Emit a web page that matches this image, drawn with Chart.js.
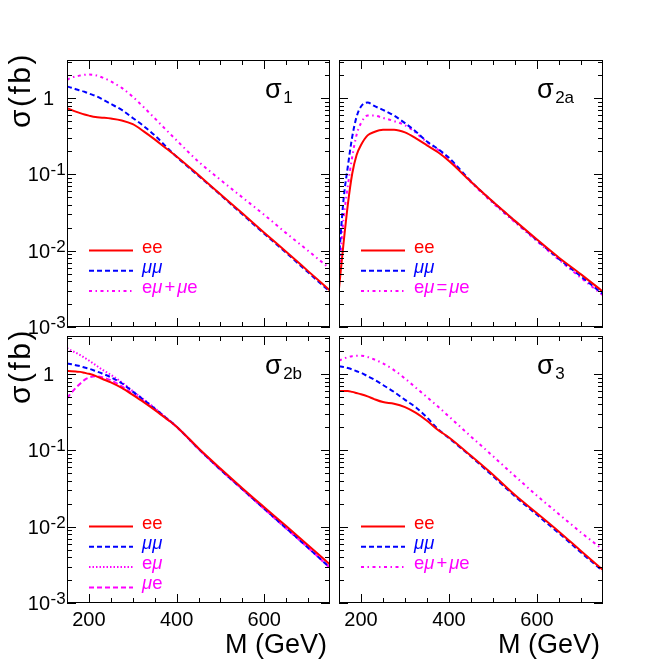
<!DOCTYPE html>
<html>
<head>
<meta charset="utf-8">
<script src="https://cdn.jsdelivr.net/npm/chart.js@4.4.1/dist/chart.umd.min.js"></script>
<style>
  html, body { margin: 0; padding: 0; background: #fff; }
  #wrap { position: relative; width: 664px; height: 664px; }
  #wrap canvas { position: absolute; left: 0; top: 0; }
</style>
</head>
<body>
<div id="wrap">
  <canvas id="sig1" width="664" height="664"></canvas>
  <canvas id="sig2a" width="664" height="664"></canvas>
  <canvas id="sig2b" width="664" height="664"></canvas>
  <canvas id="sig3" width="664" height="664"></canvas>
</div>
<script>
// masses (GeV) shared by every curve
const mass = [150, 160, 170, 180, 190, 200, 215, 230, 250, 275, 300, 325, 350, 375, 400, 450, 500, 550, 600, 650, 700, 750];

// sigma_1 (fb)
const s1_ee   = [0.74, 0.70, 0.665, 0.635, 0.61, 0.59, 0.565, 0.555, 0.54, 0.51, 0.455, 0.367, 0.288, 0.222, 0.172, 0.098, 0.055, 0.031, 0.0172, 0.0097, 0.0054, 0.0030];
const s1_mumu = [1.42, 1.37, 1.31, 1.26, 1.21, 1.15, 1.07, 0.97, 0.84, 0.70, 0.55, 0.43, 0.325, 0.235, 0.170, 0.096, 0.054, 0.030, 0.0167, 0.0094, 0.0052, 0.0029];
const s1_emu  = [1.74, 1.85, 1.93, 1.98, 2.02, 2.04, 2.0, 1.87, 1.66, 1.36, 1.04, 0.76, 0.545, 0.39, 0.28, 0.147, 0.085, 0.050, 0.0295, 0.017, 0.010, 0.0058];

// sigma_2a (fb)
const s2a_ee   = [0.0032, 0.012, 0.040, 0.102, 0.18, 0.243, 0.325, 0.36, 0.385, 0.385, 0.355, 0.297, 0.24, 0.195, 0.150, 0.080, 0.0437, 0.0246, 0.0140, 0.0081, 0.0049, 0.0029];
const s2a_mumu = [0.008, 0.045, 0.126, 0.31, 0.57, 0.776, 0.875, 0.79, 0.70, 0.59, 0.47, 0.363, 0.27, 0.215, 0.165, 0.081, 0.0435, 0.0243, 0.0137, 0.0078, 0.0046, 0.0027];
const s2a_emu  = [0.005, 0.025, 0.07, 0.17, 0.33, 0.47, 0.59, 0.59, 0.55, 0.50, 0.44, 0.35, 0.265, 0.21, 0.158, 0.079, 0.042, 0.0235, 0.0133, 0.0076, 0.0044, 0.0026];

// sigma_2b (fb)
const s2b_ee   = [1.10, 1.09, 1.08, 1.07, 1.04, 1.01, 0.95, 0.87, 0.78, 0.66, 0.535, 0.43, 0.34, 0.265, 0.205, 0.107, 0.058, 0.032, 0.018, 0.0102, 0.0057, 0.0032];
const s2b_mumu = [1.38, 1.35, 1.31, 1.27, 1.22, 1.18, 1.10, 1.02, 0.91, 0.76, 0.59, 0.46, 0.355, 0.27, 0.205, 0.105, 0.056, 0.031, 0.0172, 0.0096, 0.0053, 0.0029];
const s2b_emu  = [2.2, 2.04, 1.91, 1.78, 1.64, 1.51, 1.32, 1.15, 0.98, 0.78, 0.60, 0.465, 0.36, 0.272, 0.205, 0.105, 0.056, 0.031, 0.0171, 0.0095, 0.0053, 0.0029];
const s2b_mue  = [0.48, 0.57, 0.66, 0.75, 0.84, 0.90, 0.94, 0.91, 0.83, 0.69, 0.55, 0.44, 0.345, 0.266, 0.204, 0.105, 0.056, 0.031, 0.0171, 0.0095, 0.0053, 0.0029];

// sigma_3 (fb)
const s3_ee   = [0.60, 0.60, 0.60, 0.585, 0.565, 0.545, 0.51, 0.47, 0.43, 0.41, 0.37, 0.31, 0.245, 0.185, 0.148, 0.085, 0.048, 0.026, 0.0150, 0.0086, 0.0048, 0.0027];
const s3_mumu = [1.27, 1.24, 1.20, 1.15, 1.09, 1.04, 0.94, 0.85, 0.72, 0.585, 0.46, 0.365, 0.27, 0.19, 0.145, 0.083, 0.046, 0.025, 0.0143, 0.0082, 0.0046, 0.0026];
const s3_emu  = [1.50, 1.59, 1.67, 1.72, 1.74, 1.74, 1.68, 1.56, 1.38, 1.13, 0.875, 0.66, 0.50, 0.375, 0.278, 0.152, 0.084, 0.046, 0.0255, 0.0146, 0.0084, 0.0050];

// axis labels
const xTickLabels = [200, 400, 600];
const yDecades = [1, 0.1, 0.01, 0.001];
const yTickLabels = [['1', ''], ['10', '-1'], ['10', '-2'], ['10', '-3']];

const RED = '#ff0000', BLUE = '#0000ff', MAG = '#ff00ff';
const FONT = "'Liberation Sans', Arial, Helvetica, sans-serif";

function curve(label, values, color, dash) {
    return {
        label: label,
        data: mass.map((m, i) => ({ x: m, y: values[i] })),
        borderColor: color,
        borderWidth: 2,
        borderDash: dash,
        pointRadius: 0,
        fill: false,
        cubicInterpolationMode: 'monotone'
    };
}

// draws text, with mu in italics and a bit of room round + and =
function richText(ctx, text, x, y, size) {
    for (const ch of text) {
        const op = (ch === '+' || ch === '=');
        if (op) x += 2;
        ctx.font = (ch === 'μ' ? 'italic ' : '') + size + 'px ' + FONT;
        ctx.fillText(ch, x, y);
        x += ctx.measureText(ch).width;
        if (op) x += 2;
    }
}

// frame, inward ticks, log labels, legend and panel name
const panelPlugin = {
    id: 'panel',
    afterDatasetsDraw(chart, args, o) {
        const ctx = chart.ctx;
        const a = chart.chartArea;
        const xs = chart.scales.x, ys = chart.scales.y;
        ctx.save();
        ctx.setLineDash([]);
        ctx.strokeStyle = '#000';
        ctx.lineWidth = 1;
        ctx.strokeRect(a.left + 0.5, a.top + 0.5, a.width - 1, a.height - 1);

        ctx.beginPath();
        for (let v = xs.min + 50; v < xs.max; v += 50) {
            const px = Math.round(xs.getPixelForValue(v)) + 0.5;
            const len = xTickLabels.includes(v) ? 9 : 5;
            ctx.moveTo(px, a.bottom); ctx.lineTo(px, a.bottom - len);
            ctx.moveTo(px, a.top); ctx.lineTo(px, a.top + len);
        }
        yDecades.forEach(d => {
            for (let k = 1; k <= 9; k++) {
                const v = k * d;
                if (v < ys.min * 0.999 || v > ys.max) continue;
                const py = Math.round(ys.getPixelForValue(v)) + 0.5;
                const len = k === 1 ? 9 : 5;
                ctx.moveTo(a.left, py); ctx.lineTo(a.left + len, py);
                ctx.moveTo(a.right, py); ctx.lineTo(a.right - len, py);
            }
        });
        ctx.stroke();

        ctx.fillStyle = '#000';
        ctx.textBaseline = 'alphabetic';
        if (o.yLabels) {
            yDecades.forEach((d, i) => {
                const py = ys.getPixelForValue(d);
                const [base, sup] = yTickLabels[i];
                ctx.font = '20px ' + FONT;
                if (!sup) {
                    ctx.textAlign = 'right';
                    ctx.fillText(base, a.left - 13, py + 7);
                } else {
                    ctx.textAlign = 'right';
                    ctx.fillText(base, a.left - 17, py + 7);
                    ctx.textAlign = 'left';
                    ctx.font = '17px ' + FONT;
                    ctx.fillText(sup, a.left - 16.5, py + 1);
                }
            });
            ctx.save();
            ctx.translate(a.left - 37, a.top + 68);
            ctx.rotate(-Math.PI / 2);
            ctx.textAlign = 'left';
            ctx.font = '30px ' + FONT;
            if ('letterSpacing' in ctx) ctx.letterSpacing = '2.5px';
            ctx.fillText('σ(fb)', 0, 0);
            ctx.restore();
        }
        if (o.xTitle) {
            ctx.textAlign = 'right';
            ctx.font = '27px ' + FONT;
            ctx.fillText('M (GeV)', a.right - 3, a.bottom + 50);
        }

        // panel name
        ctx.textAlign = 'left';
        ctx.font = '27px ' + FONT;
        const sx = a.left + 198;
        ctx.fillText('σ', sx, a.top + 37.5);
        const w = ctx.measureText('σ').width;
        ctx.font = '17px ' + FONT;
        ctx.fillText(o.sub, sx + w + 1.5, a.top + 43);

        // legend
        o.legend.forEach((text, i) => {
            const ds = chart.data.datasets[i];
            const ly = a.bottom - 76.5 + i * 20.3;
            ctx.beginPath();
            ctx.strokeStyle = ds.borderColor;
            ctx.lineWidth = 2;
            ctx.setLineDash(ds.borderDash || []);
            ctx.moveTo(a.left + 22, ly);
            ctx.lineTo(a.left + 66, ly);
            ctx.stroke();
            ctx.setLineDash([]);
            ctx.fillStyle = ds.borderColor;
            ctx.textAlign = 'left';
            richText(ctx, text, a.left + 75, ly + 2, 18.5);
        });
        ctx.restore();
    }
};

function panel(id, pad, yW, xH, datasets, o) {
    return new Chart(document.getElementById(id), {
        type: 'line',
        data: { datasets: datasets },
        options: {
            responsive: false,
            animation: false,
            devicePixelRatio: 1,
            layout: { padding: pad },
            plugins: {
                legend: { display: false },
                tooltip: { enabled: false },
                panel: o
            },
            scales: {
                x: {
                    type: 'linear',
                    min: 150,
                    max: 750,
                    afterFit: s => { s.height = xH; },
                    grid: { display: false, drawTicks: false },
                    border: { display: false },
                    ticks: {
                        display: !!o.xTitle,
                        stepSize: 50,
                        autoSkip: false,
                        maxRotation: 0,
                        padding: 5,
                        color: '#000',
                        font: { family: FONT, size: 20 },
                        callback: v => xTickLabels.includes(v) ? String(v) : ''
                    }
                },
                y: {
                    type: 'logarithmic',
                    min: 0.001,
                    max: 3.16,
                    afterFit: s => { s.width = yW; },
                    grid: { display: false, drawTicks: false },
                    border: { display: false },
                    ticks: { display: false }
                }
            }
        },
        plugins: [panelPlugin]
    });
}

const SOLID = [], DASH = [5, 3], DASHDOT = [3, 3.5, 1.5, 3.5], DOT = [1.5, 2];

panel('sig1', { left: 0, top: 60, right: 334, bottom: 332 }, 67, 5, [
    curve('ee', s1_ee, RED, SOLID),
    curve('μμ', s1_mumu, BLUE, DASH),
    curve('eμ+μe', s1_emu, MAG, DASHDOT)
], { sub: '1', yLabels: true, legend: ['ee', 'μμ', 'eμ+μe'] });

panel('sig2a', { left: 335, top: 60, right: 61, bottom: 332 }, 4, 5, [
    curve('ee', s2a_ee, RED, SOLID),
    curve('μμ', s2a_mumu, BLUE, DASH),
    curve('eμ=μe', s2a_emu, MAG, DASHDOT)
], { sub: '2a', legend: ['ee', 'μμ', 'eμ=μe'] });

panel('sig2b', { left: 0, top: 336, right: 334, bottom: 0 }, 67, 61, [
    curve('ee', s2b_ee, RED, SOLID),
    curve('μμ', s2b_mumu, BLUE, DASH),
    curve('eμ', s2b_emu, MAG, DOT),
    curve('μe', s2b_mue, MAG, DASH)
], { sub: '2b', yLabels: true, xTitle: true, legend: ['ee', 'μμ', 'eμ', 'μe'] });

panel('sig3', { left: 335, top: 336, right: 61, bottom: 0 }, 4, 61, [
    curve('ee', s3_ee, RED, SOLID),
    curve('μμ', s3_mumu, BLUE, DASH),
    curve('eμ+μe', s3_emu, MAG, DASHDOT)
], { sub: '3', xTitle: true, legend: ['ee', 'μμ', 'eμ+μe'] });
</script>
</body>
</html>
